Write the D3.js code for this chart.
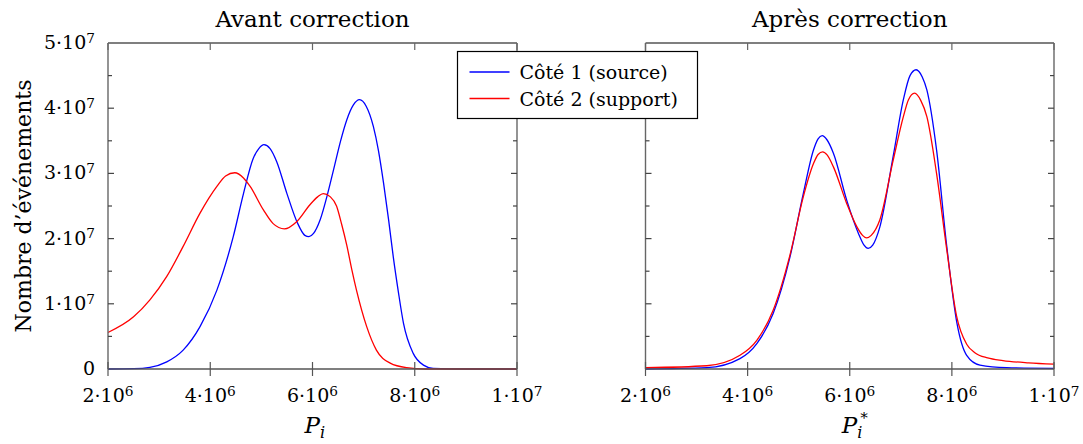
<!DOCTYPE html>
<html>
<head>
<meta charset="utf-8">
<script src="https://cdn.jsdelivr.net/npm/d3@7"></script>
<style>
	body { margin: 0; background: #fff; }
	text { font-family: "DejaVu Serif", serif; fill: #000; }
</style>
</head>
<body>
<div id="chart"></div>
<script>
// x values in units of 1e6, y values in units of 1e7
var avantSourceX = [2.0, 2.5, 2.82, 3.15, 3.47, 3.8, 4.13, 4.45, 4.65, 4.84, 4.95, 5.05, 5.17, 5.3, 5.5, 5.7, 5.85, 5.93, 6.02, 6.15, 6.3, 6.41, 6.55, 6.67, 6.8, 6.92, 7.05, 7.19, 7.29, 7.39, 7.49, 7.58, 7.68, 7.78, 7.97, 8.17, 8.36, 9.0, 10.0];
var avantSourceY = [0.0, 0.005, 0.026, 0.11, 0.29, 0.65, 1.21, 2.03, 2.69, 3.23, 3.38, 3.44, 3.38, 3.18, 2.69, 2.25, 2.05, 2.03, 2.08, 2.29, 2.70, 3.05, 3.50, 3.82, 4.05, 4.13, 4.03, 3.72, 3.35, 2.85, 2.28, 1.72, 1.18, 0.70, 0.24, 0.06, 0.01, 0.0, 0.0];

var avantSupportX = [2.0, 2.5, 2.82, 3.15, 3.47, 3.8, 4.13, 4.3, 4.48, 4.65, 4.78, 5.04, 5.23, 5.45, 5.69, 5.95, 6.1, 6.21, 6.35, 6.47, 6.57, 6.67, 6.77, 6.86, 7.06, 7.25, 7.52, 7.84, 8.2, 9.0, 10.0];
var avantSupportY = [0.56, 0.80, 1.06, 1.42, 1.88, 2.39, 2.80, 2.96, 3.01, 2.93, 2.80, 2.44, 2.23, 2.15, 2.26, 2.52, 2.64, 2.69, 2.64, 2.50, 2.22, 1.90, 1.52, 1.21, 0.65, 0.29, 0.09, 0.02, 0.0, 0.0, 0.0];

var apresSourceX = [2.0, 3.2, 3.85, 4.18, 4.5, 4.83, 5.09, 5.29, 5.38, 5.46, 5.55, 5.68, 5.94, 6.17, 6.28, 6.36, 6.45, 6.59, 6.85, 7.05, 7.18, 7.3, 7.42, 7.51, 7.7, 7.9, 8.1, 8.29, 8.55, 9.07, 10.0];
var apresSourceY = [0.0, 0.02, 0.16, 0.39, 0.85, 1.72, 2.69, 3.36, 3.53, 3.58, 3.52, 3.31, 2.59, 2.08, 1.90, 1.85, 1.90, 2.18, 3.26, 4.13, 4.50, 4.59, 4.48, 4.28, 3.36, 1.88, 0.70, 0.21, 0.06, 0.02, 0.01];

var apresSupportX = [2.0, 3.2, 3.85, 4.18, 4.5, 4.83, 5.09, 5.29, 5.38, 5.47, 5.56, 5.68, 5.94, 6.14, 6.25, 6.33, 6.42, 6.59, 6.85, 7.05, 7.15, 7.27, 7.39, 7.51, 7.7, 7.9, 8.09, 8.29, 8.45, 8.7, 9.0, 9.5, 10.0];
var apresSupportY = [0.02, 0.05, 0.21, 0.44, 0.90, 1.75, 2.64, 3.15, 3.29, 3.33, 3.28, 3.10, 2.54, 2.18, 2.05, 2.01, 2.05, 2.29, 3.20, 3.87, 4.13, 4.23, 4.12, 3.87, 3.00, 1.83, 0.82, 0.38, 0.25, 0.17, 0.13, 0.095, 0.075];

var xTicks = [2e6, 4e6, 6e6, 8e6, 1e7];
var yTicks = [0, 1e7, 2e7, 3e7, 4e7, 5e7];
var yMinorTicks = [0.5e7, 1.5e7, 2.5e7, 3.5e7, 4.5e7];

var titles = ["Avant correction", "Après correction"];
var seriesNames = ["Côté 1 (source)", "Côté 2 (support)"];
var colors = ["#0000ff", "#ff0000"];

function toPoints(xs, ys) {
	return xs.map((x, i) => ({ x: x * 1e6, y: ys[i] * 1e7 }));
}

var panels = [
	{ title: titles[0], star: false, x0: 108, x1: 517, yLabels: true,
		series: [toPoints(avantSourceX, avantSourceY), toPoints(avantSupportX, avantSupportY)] },
	{ title: titles[1], star: true, x0: 645.5, x1: 1054, yLabels: false,
		series: [toPoints(apresSourceX, apresSourceY), toPoints(apresSupportX, apresSupportY)] }
];

var width = 1083, height = 444;
var top0 = 43, bottom0 = 369;

var svg = d3.select("#chart").append("svg")
	.attr("width", width)
	.attr("height", height);

// writes "m·10^e" as text with a superscript
function sciLabel(sel, v) {
	if (v == 0) { sel.text("0"); return; }
	var e = Math.floor(Math.log10(v) + 1e-9);
	var m = Math.round(v / Math.pow(10, e));
	sel.append("tspan").text(m + "·10");
	sel.append("tspan").attr("dy", "-0.45em").attr("font-size", "0.72em").text(e);
}

var y = d3.scaleLinear().domain([0, 5e7]).range([bottom0, top0]);

panels.forEach((p) => {
	var x = d3.scaleLinear().domain([2e6, 1e7]).range([p.x0, p.x1]);
	var g = svg.append("g");

	// curves
	var line = d3.line()
		.x((d) => x(d.x))
		.y((d) => y(d.y))
		.curve(d3.curveMonotoneX);

	p.series.forEach((s, i) => {
		g.append("path")
			.datum(s)
			.attr("d", line)
			.attr("fill", "none")
			.attr("stroke", colors[i])
			.attr("stroke-width", 1.3);
	});

	// frame
	g.append("line").attr("x1", p.x0).attr("x2", p.x1).attr("y1", top0).attr("y2", top0)
		.attr("stroke", "#000").attr("stroke-width", 1.2);
	g.append("line").attr("x1", p.x0).attr("x2", p.x1).attr("y1", bottom0).attr("y2", bottom0)
		.attr("stroke", "#555").attr("stroke-width", 1.4);
	[p.x0, p.x1].forEach((xx) => {
		g.append("line").attr("x1", xx).attr("x2", xx).attr("y1", top0).attr("y2", bottom0)
			.attr("stroke", "#666").attr("stroke-width", 1.4);
	});

	// x ticks
	xTicks.forEach((t) => {
		g.append("line").attr("x1", x(t)).attr("x2", x(t))
			.attr("y1", bottom0 - 7).attr("y2", bottom0 + 7)
			.attr("stroke", "#555").attr("stroke-width", 1.2);
		g.append("line").attr("x1", x(t)).attr("x2", x(t))
			.attr("y1", top0).attr("y2", top0 + 7)
			.attr("stroke", "#666").attr("stroke-width", 1.2);
		g.append("text")
			.attr("x", x(t)).attr("y", 402)
			.attr("text-anchor", "middle")
			.attr("font-size", 19)
			.call(sciLabel, t);
	});

	// y ticks, inward on both sides
	yTicks.concat(yMinorTicks).forEach((t) => {
		var len = yTicks.indexOf(t) >= 0 ? 6 : 4;
		if (t == 0 || t == 5e7) return;
		g.append("line").attr("x1", p.x0).attr("x2", p.x0 + len)
			.attr("y1", y(t)).attr("y2", y(t))
			.attr("stroke", "#444").attr("stroke-width", 1.2);
		g.append("line").attr("x1", p.x1 - len).attr("x2", p.x1)
			.attr("y1", y(t)).attr("y2", y(t))
			.attr("stroke", "#444").attr("stroke-width", 1.2);
	});

	if (p.yLabels) {
		yTicks.forEach((t) => {
			g.append("text")
				.attr("x", p.x0 - 13).attr("y", y(t) + 6)
				.attr("text-anchor", "end")
				.attr("font-size", 19)
				.call(sciLabel, t);
		});
	}

	// title
	g.append("text")
		.attr("x", (p.x0 + p.x1) / 2).attr("y", 27)
		.attr("text-anchor", "middle")
		.attr("font-size", 23)
		.text(p.title);

	// x label P_i or P_i^*
	var cx = (p.x0 + p.x1) / 2 - 8;
	var lab = g.append("text")
		.attr("x", cx).attr("y", 433)
		.attr("font-size", 23)
		.attr("font-style", "italic");
	lab.append("tspan").text("P");
	lab.append("tspan").attr("font-size", "0.7em").attr("dy", "0.3em").text("i");
	if (p.star) {
		g.append("text")
			.attr("x", cx + 17).attr("y", 420)
			.attr("font-size", 15)
			.text("∗");
	}
});

// y axis label
svg.append("text")
	.attr("transform", "translate(31," + (top0 + bottom0) / 2 + ") rotate(-90)")
	.attr("text-anchor", "middle")
	.attr("font-size", 22)
	.text("Nombre d’événements");

// legend
var legend = svg.append("g").attr("transform", "translate(457.5,51.5)");
legend.append("rect")
	.attr("width", 240).attr("height", 67)
	.attr("fill", "#fff").attr("stroke", "#000").attr("stroke-width", 1.2);

seriesNames.forEach((name, i) => {
	legend.append("line")
		.attr("x1", 12).attr("x2", 52)
		.attr("y1", 20.5 + i * 26.5).attr("y2", 20.5 + i * 26.5)
		.attr("stroke", colors[i]).attr("stroke-width", 1.3);
	legend.append("text")
		.attr("x", 62).attr("y", 27.5 + i * 26.5)
		.attr("font-size", 19)
		.text(name);
});
</script>
</body>
</html>
